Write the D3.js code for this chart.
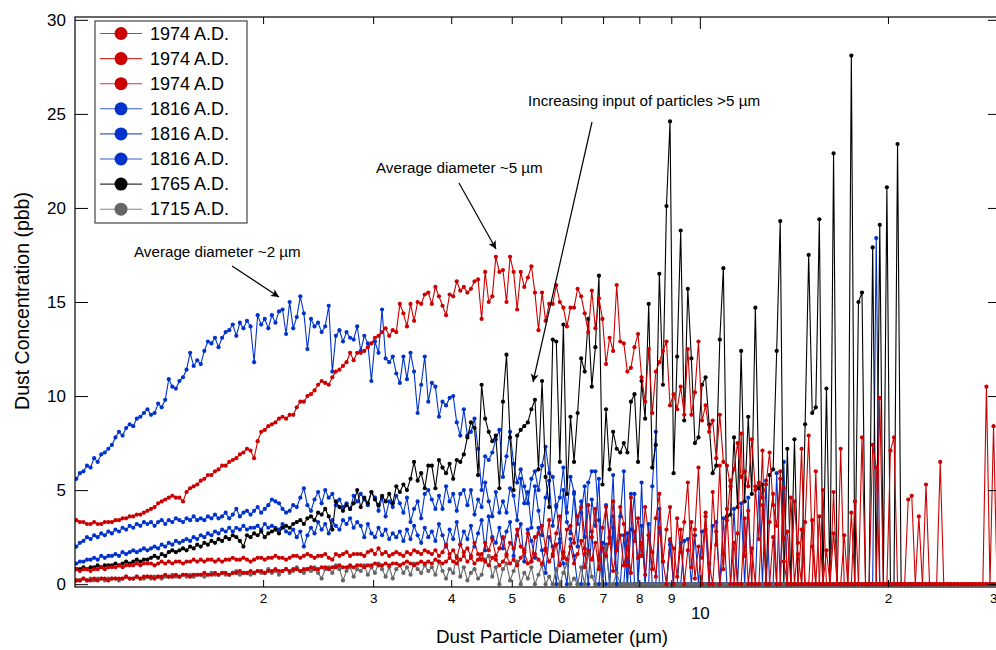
<!DOCTYPE html>
<html>
<head>
<meta charset="utf-8">
<title>Dust particle size distributions</title>
<script src="https://cdn.jsdelivr.net/npm/d3@7/dist/d3.min.js"></script>
<style>
  html, body { margin: 0; padding: 0; background: #ffffff; }
  svg { display: block; font-family: "Liberation Sans", Arial, Helvetica, sans-serif; }
</style>
</head>
<body>
<svg id="chart" width="996" height="650"></svg>
<script>
// Size channels of the particle counter: log-spaced bins (µm)
const channelCount = 260;
const channelMinDiameter = 1.005;
const channelMaxDiameter = 29.9;
const channelDiameters = d3.range(channelCount).map(i =>
  channelMinDiameter * Math.pow(channelMaxDiameter / channelMinDiameter, i / (channelCount - 1)));

const legendLabels = ["1974 A.D.", "1974 A.D.", "1974 A.D", "1816 A.D.", "1816 A.D.", "1816 A.D.", "1765 A.D.", "1715 A.D."];

// Dust concentration (ppb) per size channel, smallest channel first
const conc1974a = [
  3.4, 3.3, 3.3, 3.2, 3.2, 3.3, 3.2, 3.2, 3.3, 3.3,
  3.3, 3.4, 3.4, 3.5, 3.5, 3.6, 3.6, 3.7, 3.7, 3.8,
  3.9, 4.0, 4.1, 4.3, 4.4, 4.5, 4.6, 4.7, 4.6, 4.6,
  4.4, 4.9, 5.1, 5.2, 5.3, 5.5, 5.6, 5.8, 5.8, 6.0,
  6.1, 6.3, 6.3, 6.5, 6.6, 6.7, 6.9, 7.0, 7.2, 7.1,
  6.7, 7.6, 8.1, 8.2, 8.4, 8.5, 8.6, 8.8, 8.9, 8.8,
  9.0, 9.0, 9.4, 9.7, 9.7, 10.0, 10.1, 10.3, 10.6, 10.8,
  10.7, 10.6, 11.0, 11.3, 11.4, 11.6, 11.8, 12.3, 11.9, 12.3,
  12.3, 12.4, 12.6, 12.8, 13.1, 13.2, 13.4, 13.6, 13.2, 13.5,
  13.4, 14.9, 14.4, 13.7, 14.9, 14.0, 15.0, 14.9, 15.4, 15.5,
  14.9, 15.8, 15.3, 14.8, 14.3, 15.4, 15.3, 16.1, 15.6, 15.8,
  15.5, 15.7, 16.1, 16.2, 14.1, 16.6, 15.0, 15.3, 17.4, 16.6,
  16.7, 15.0, 17.4, 16.6, 14.6, 16.6, 15.8, 16.3, 16.9, 15.5,
  13.5, 15.5, 14.0, 14.9, 14.9, 15.9, 15.0, 14.7, 13.7, 14.7,
  14.7, 15.7, 15.3, 14.4, 13.4, 15.6, 13.6, 15.2, 14.1, 11.7,
  13.1, 12.4, 15.9, 12.9, 12.8, 11.3, 11.5, 12.6, 13.3, 11.0,
  9.7, 12.5, 9.1, 11.3, 11.8, 12.4, 12.9, 9.5, 10.1, 9.3,
  10.5, 9.0, 12.5, 9.0, 10.2, 12.9, 8.7, 9.5, 8.1, 8.7,
  6.7, 9.0, 6.5, 6.3, 5.2, 6.1, 7.5, 5.7, 6.0, 5.2,
  7.7, 5.0, 5.4, 4.6, 5.3, 7.0, 4.2, 3.1, 5.6, 2.4,
  2.8, 0, 4.4, 1.6, 0, 3.3, 7.9, 2.0, 0, 3.6,
  0, 1.8, 0, 4.9, 0, 0, 2.6, 0, 0, 0,
  0, 7.8, 0, 0, 0, 0, 9.9, 0, 0, 0,
  0, 0, 0, 0, 0, 0, 0, 0, 0, 0,
  0, 0, 0, 6.5, 0, 0, 0, 0, 0, 0,
  0, 0, 0, 0, 0, 0, 10.5, 0, 8.4, 0
];
const conc1974b = [
  0.8, 0.7, 0.8, 0.8, 0.7, 0.8, 0.8, 0.9, 0.8, 0.9,
  0.9, 0.9, 1.0, 0.9, 1.0, 1.0, 1.0, 1.1, 1.0, 1.1,
  1.1, 1.1, 1.0, 1.1, 1.2, 1.1, 1.2, 1.1, 1.2, 1.2,
  1.1, 1.2, 1.2, 1.3, 1.2, 1.3, 1.2, 1.3, 1.3, 1.2,
  1.3, 1.2, 1.3, 1.3, 1.4, 1.3, 1.3, 1.4, 1.3, 1.2,
  1.3, 1.4, 1.4, 1.3, 1.4, 1.4, 1.5, 1.4, 1.4, 1.3,
  1.4, 1.5, 1.5, 1.4, 1.5, 1.6, 1.5, 1.4, 1.5, 1.5,
  1.6, 1.4, 1.3, 1.6, 1.5, 1.6, 1.7, 1.5, 1.6, 1.6,
  1.6, 1.5, 1.7, 1.8, 1.6, 1.9, 1.6, 1.7, 1.5, 1.6,
  1.7, 1.6, 1.5, 1.7, 1.6, 1.8, 1.7, 1.6, 1.8, 1.7,
  1.6, 1.8, 1.5, 1.7, 2.1, 1.6, 1.8, 1.4, 2.1, 1.7,
  1.9, 1.5, 2.2, 1.6, 1.3, 2.2, 1.8, 2.4, 1.5, 1.9,
  2.5, 1.6, 2.2, 1.9, 2.9, 2.0, 1.8, 2.7, 1.2, 2.5,
  2.7, 3.1, 1.9, 3.4, 1.6, 2.7, 3.6, 1.4, 2.9, 3.1,
  2.2, 3.6, 4.1, 1.6, 4.2, 2.5, 4.0, 1.3, 3.0, 4.1,
  2.2, 4.4, 1.8, 4.1, 3.2, 1.0, 4.6, 2.3, 3.5, 1.5,
  4.1, 2.6, 0.8, 3.5, 4.8, 1.2, 2.9, 4.1, 0, 3.5,
  1.7, 3.3, 5.4, 0.9, 2.9, 6.2, 1.4, 3.8, 0, 4.9,
  2.1, 6.3, 0.8, 3.4, 5.5, 0, 2.7, 8.0, 1.5, 3.9,
  0, 5.2, 2.4, 7.1, 0, 3.3, 4.8, 0, 6.0, 1.2,
  0, 4.6, 0, 2.2, 7.2, 0, 0, 3.4, 0, 0,
  5.0, 0, 0, 2.7, 0, 7.2, 0, 0, 0, 4.4,
  0, 0, 0, 0, 7.4, 6.2, 0, 0, 0, 7.1,
  7.8, 0, 0, 0, 4.5, 4.7, 0, 0, 0, 5.3,
  0, 0, 0, 0, 0, 0, 0, 0, 0, 0,
  0, 0, 0, 0, 0, 0, 0, 0, 0, 0
];
const conc1974c = [
  0.2, 0.2, 0.3, 0.2, 0.2, 0.3, 0.2, 0.3, 0.3, 0.2,
  0.3, 0.3, 0.3, 0.3, 0.4, 0.3, 0.3, 0.4, 0.3, 0.4,
  0.4, 0.4, 0.3, 0.4, 0.4, 0.5, 0.4, 0.4, 0.5, 0.4,
  0.5, 0.5, 0.4, 0.5, 0.5, 0.5, 0.6, 0.5, 0.5, 0.6,
  0.5, 0.6, 0.6, 0.5, 0.6, 0.6, 0.7, 0.6, 0.6, 0.7,
  0.6, 0.7, 0.7, 0.6, 0.7, 0.7, 0.8, 0.7, 0.7, 0.8,
  0.7, 0.8, 0.8, 0.7, 0.8, 0.8, 0.9, 0.8, 0.8, 0.9,
  0.9, 0.8, 0.9, 0.9, 1.0, 0.9, 0.9, 1.0, 0.9, 1.0,
  1.0, 0.9, 1.0, 1.0, 1.1, 1.0, 1.0, 1.1, 1.0, 1.1,
  1.1, 1.0, 1.1, 1.2, 1.1, 1.0, 1.1, 1.2, 1.1, 1.2,
  1.1, 1.3, 1.2, 1.1, 1.2, 1.4, 1.2, 1.1, 1.3, 1.5,
  1.2, 1.4, 1.1, 1.3, 1.6, 1.2, 1.0, 1.4, 1.3, 1.0,
  1.2, 1.5, 1.1, 1.3, 1.0, 1.4, 1.7, 1.1, 1.2, 1.6,
  1.3, 1.1, 1.8, 1.2, 1.5, 2.1, 1.0, 1.7, 1.3, 2.0,
  1.1, 1.6, 2.3, 0.9, 1.8, 1.3, 2.2, 0.8, 1.9, 1.5,
  2.4, 0.7, 1.8, 2.6, 1.0, 2.0, 0.6, 2.8, 1.4, 2.2,
  0.5, 2.6, 1.7, 0.4, 3.0, 1.2, 0, 2.4, 1.9, 0.4,
  2.9, 0, 1.8, 3.3, 0.3, 2.0, 0, 3.6, 1.1, 0,
  2.8, 0, 1.6, 4.0, 0, 2.2, 0, 0, 3.5, 0,
  1.9, 0, 0, 4.2, 0, 0, 2.5, 0, 0, 5.1,
  0, 0, 0, 0, 2.9, 0, 0, 0, 6.0, 0,
  0, 0, 0, 0, 0, 0, 0, 0, 3.8, 0,
  0, 0, 0, 0, 0, 0, 0, 0, 0, 0,
  0, 0, 0, 0, 0, 0, 0, 3.6, 0, 0,
  0, 0, 0, 0, 0, 0, 0, 0, 0, 0,
  0, 0, 0, 0, 0, 0, 0, 0, 0, 0
];
const conc1816a = [
  5.6, 5.9, 6.0, 6.3, 6.2, 6.7, 6.5, 6.9, 7.0, 7.2,
  7.4, 7.8, 8.1, 7.9, 8.3, 8.5, 8.4, 8.8, 8.9, 9.1,
  9.3, 9.0, 9.1, 9.6, 9.4, 9.8, 10.9, 10.5, 10.4, 10.8,
  11.0, 11.4, 12.3, 11.6, 11.9, 11.7, 12.4, 12.9, 12.8, 13.1,
  12.6, 13.1, 13.4, 13.5, 13.8, 13.2, 13.9, 13.6, 14.0, 13.7,
  11.8, 14.3, 13.8, 14.1, 13.6, 14.3, 13.9, 14.5, 14.6, 13.3,
  15.0, 13.6, 14.2, 15.3, 14.4, 12.5, 14.1, 13.7, 13.9, 13.4,
  13.7, 14.8, 11.3, 13.2, 13.5, 12.9, 13.4, 13.1, 13.0, 13.7,
  12.4, 13.2, 12.8, 10.8, 12.9, 12.3, 14.6, 12.0, 11.8, 12.1,
  11.2, 10.7, 12.1, 10.9, 12.3, 11.3, 9.1, 10.6, 12.1, 9.7,
  10.7, 10.5, 8.9, 9.7, 9.5, 9.9, 10.0, 8.6, 7.9, 9.3,
  7.9, 8.1, 8.8, 7.2, 5.0, 6.8, 6.6, 7.0, 7.7, 8.2,
  5.7, 6.8, 8.1, 6.4, 5.4, 6.1, 5.2, 4.3, 5.6, 6.0,
  5.0, 6.3, 7.3, 5.9, 5.7, 4.1, 4.6, 6.2, 3.8, 5.7,
  4.9, 3.2, 4.4, 2.5, 5.4, 6.0, 6.0, 3.4, 0, 2.1,
  0, 3.6, 0, 0, 2.6, 0, 4.8, 0, 0, 3.1,
  0, 0, 5.2, 8.1, 0, 0, 0, 2.3, 0, 0,
  2.2, 0, 0, 0, 0, 0, 0, 0, 0, 0,
  0, 0, 0, 0, 0, 0, 0, 0, 0, 0,
  0, 0, 0, 0, 0, 0, 0, 0, 0, 0
];
const conc1816b = [
  2.0, 2.2, 2.3, 2.5, 2.4, 2.6, 2.5, 2.7, 2.6, 2.8,
  2.7, 2.9, 2.8, 3.0, 2.9, 3.1, 3.0, 3.2, 3.1, 3.3,
  3.2, 3.3, 3.1, 3.3, 3.4, 3.2, 3.4, 3.3, 3.5, 3.4,
  3.3, 3.5, 3.4, 3.6, 3.4, 3.5, 3.4, 3.6, 3.5, 3.7,
  3.5, 3.6, 3.8, 3.5, 3.7, 4.0, 3.6, 3.8, 3.9, 3.7,
  3.9, 4.1, 3.8, 4.0, 4.2, 4.5, 4.4, 4.3, 4.0, 3.8,
  3.9, 4.2, 4.1, 4.6, 5.1, 4.2, 3.9, 4.5, 4.9, 4.3,
  5.0, 4.6, 4.8, 4.2, 4.5, 4.1, 4.3, 4.0, 4.7, 4.4,
  4.8, 4.5, 4.2, 4.9, 4.6, 3.9, 4.6, 3.6, 4.4, 4.1,
  4.7, 4.3, 3.8, 4.6, 3.3, 4.0, 4.4, 3.5, 4.8, 5.0,
  4.5, 4.0, 4.7, 4.0, 5.2, 4.4, 4.8, 3.9, 4.8, 5.0,
  4.2, 5.0, 3.7, 4.5, 4.1, 5.4, 4.4, 3.6, 4.9, 3.8,
  4.4, 3.8, 5.1, 4.7, 3.4, 5.6, 4.3, 4.9, 3.0, 5.2,
  3.9, 2.6, 4.6, 5.5, 3.1, 4.2, 2.4, 5.0, 3.3, 2.7,
  4.8, 2.0, 3.8, 5.2, 1.6, 4.5, 3.1, 5.6, 0, 4.2,
  2.5, 5.8, 0, 3.6, 6.0, 0, 2.9, 4.8, 0, 5.4,
  0, 3.2, 0, 0, 4.0, 0, 0, 2.1, 0, 0,
  0, 2.3, 2.4, 0, 2.6, 0, 2.8, 2.9, 0, 3.1,
  3.3, 0, 3.5, 0, 0, 4.0, 0, 4.3, 0, 4.6,
  0, 0, 5.1, 0, 5.5, 0, 0, 5.9, 0, 6.5,
  0, 0, 0, 0, 0, 0, 0, 0, 0, 0,
  0, 0, 0, 0, 0, 0, 0, 0, 0, 0,
  0, 0, 0, 0, 0, 18.4, 0, 0, 0, 0,
  0, 0, 0, 0, 0, 0
];
const conc1816c = [
  1.1, 1.2, 1.2, 1.3, 1.3, 1.4, 1.3, 1.5, 1.4, 1.5,
  1.5, 1.6, 1.5, 1.7, 1.6, 1.7, 1.8, 1.7, 1.8, 1.9,
  1.8, 1.9, 2.0, 1.9, 2.1, 2.0, 2.2, 2.1, 2.3, 2.2,
  2.3, 2.4, 2.3, 2.5, 2.4, 2.6, 2.5, 2.7, 2.6, 2.8,
  2.7, 2.9, 2.8, 3.0, 2.8, 3.0, 2.9, 3.1, 2.9, 3.0,
  3.0, 3.1, 2.9, 3.2, 3.0, 3.1, 3.0, 2.9, 3.2, 2.8,
  2.7, 2.9, 2.5, 2.8, 2.0, 2.6, 3.0, 2.7, 3.3, 2.9,
  3.2, 2.7, 3.4, 3.1, 2.9, 3.4, 3.2, 3.5, 3.0, 3.3,
  3.1, 2.5, 3.2, 2.7, 2.5, 3.0, 2.6, 2.9, 2.4, 2.7,
  2.5, 2.8, 2.3, 2.9, 2.4, 3.1, 2.6, 2.2, 3.0, 2.5,
  2.8, 2.3, 3.2, 2.6, 2.0, 2.9, 2.4, 3.3, 2.1, 2.8,
  2.4, 3.1, 2.0, 2.7, 3.4, 1.8, 3.6, 2.5, 2.2, 3.0,
  1.9, 2.8, 3.3, 1.5, 2.6, 3.2, 1.2, 2.9, 2.3, 1.4,
  3.0, 1.8, 0.6, 2.5, 2.0, 0, 2.2, 1.1, 0, 2.4,
  1.5, 0, 0, 1.9, 0, 2.8, 0, 0, 2.2, 0,
  0, 3.0, 0, 0, 0, 2.7, 0, 0, 0, 0,
  0, 0, 0, 0, 0, 0, 0, 0, 0, 0,
  0, 0, 0, 0, 0, 0, 0, 0, 0, 0,
  0, 0, 0, 0, 0, 0, 0, 0, 0, 0,
  0, 0, 0, 0, 0, 0, 0, 0, 0, 0
];
const conc1765 = [
  0.8, 0.8, 0.9, 0.8, 0.9, 0.9, 1.0, 0.9, 1.0, 1.0,
  1.0, 1.1, 1.0, 1.1, 1.2, 1.1, 1.2, 1.3, 1.2, 1.3,
  1.3, 1.4, 1.5, 1.4, 1.6, 1.5, 1.7, 1.8, 1.7, 1.8,
  1.9, 1.8, 2.0, 1.9, 2.1, 2.0, 2.2, 2.1, 2.3, 2.2,
  2.4, 2.3, 2.5, 2.4, 2.6, 2.5, 2.3, 2.0, 2.6, 2.5,
  2.7, 2.6, 2.8, 2.5, 2.7, 2.8, 2.9, 2.7, 3.0, 3.1,
  3.0, 3.2, 3.3, 3.4, 3.2, 3.5, 3.6, 3.4, 3.8, 3.7,
  4.0, 3.6, 2.9, 4.4, 4.1, 3.9, 4.2, 4.0, 4.3, 5.0,
  4.1, 4.6, 4.3, 4.9, 4.5, 4.2, 4.7, 4.4, 4.8, 4.3,
  5.2, 4.9, 5.3, 5.0, 5.6, 6.5, 5.5, 5.9, 5.1, 6.3,
  6.3, 5.1, 6.6, 6.2, 5.9, 6.4, 5.6, 6.6, 6.5, 6.9,
  7.8, 8.6, 8.3, 5.8, 10.6, 8.8, 8.1, 7.6, 7.9, 5.1,
  9.7, 12.2, 7.8, 5.0, 7.9, 8.2, 8.4, 8.6, 9.3, 9.8,
  6.1, 10.8, 5.7, 4.1, 13.0, 12.9, 6.5, 13.8, 4.8, 8.9,
  6.5, 9.1, 12.0, 11.3, 14.1, 10.5, 12.6, 16.4, 5.3, 9.3,
  6.1, 8.1, 7.2, 7.0, 7.5, 7.0, 9.7, 10.1, 6.5, 10.8,
  8.8, 14.9, 6.2, 7.4, 16.5, 10.6, 20.1, 24.6, 5.9, 12.1,
  18.8, 8.7, 15.7, 12.0, 7.5, 7.8, 10.6, 11.0, 8.5, 5.9,
  6.3, 13.0, 16.8, 3.6, 3.7, 7.8, 4.1, 12.4, 4.4, 8.9,
  4.8, 14.7, 5.1, 5.3, 0, 5.8, 6.1, 12.4, 19.3, 0,
  7.2, 0, 7.7, 0, 0, 8.5, 17.5, 9.1, 9.4, 19.4,
  0, 10.4, 0, 22.9, 0, 0, 0, 0, 28.1, 0,
  15.0, 15.5, 0, 0, 17.9, 0, 19.1, 0, 21.1, 0,
  0, 23.4, 0, 0, 0, 0, 0, 0, 0, 0
];
const conc1715 = [
  0.2, 0.2, 0.3, 0.2, 0.3, 0.2, 0.3, 0.3, 0.2, 0.3,
  0.3, 0.3, 0.2, 0.3, 0.4, 0.3, 0.3, 0.4, 0.3, 0.3,
  0.4, 0.3, 0.4, 0.4, 0.3, 0.4, 0.4, 0.5, 0.4, 0.4,
  0.5, 0.4, 0.5, 0.4, 0.5, 0.5, 0.4, 0.5, 0.6, 0.5,
  0.5, 0.6, 0.5, 0.5, 0.6, 0.7, 0.5, 0.6, 0.6, 0.5,
  0.6, 0.7, 0.6, 0.6, 0.8, 0.6, 0.7, 0.5, 0.7, 0.8,
  0.6, 0.7, 0.9, 0.7, 0.6, 0.8, 0.7, 0.9, 0.6, 0.3,
  0.8, 0.9, 0.6, 1.0, 0.8, 0.2, 0.7, 0.9, 0.4, 0.8,
  0.7, 1.0, 0.5, 0.9, 0.6, 1.1, 0.8, 0.4, 0.9, 0.3,
  0.8, 1.0, 0.6, 0.9, 0.5, 1.1, 0.8, 0.6, 1.0, 0.7,
  0.9, 0.5, 1.2, 0.7, 0.3, 0.8, 0.6, 1.5, 0.4, 0.9,
  0.2, 0.6, 0.8, 0.3, 0.5, 1.3, 1.5, 0.4, 0.9, 0,
  0.8, 1.1, 0.2, 0.7, 1.2, 0, 0.6, 0.3, 0.9, 0,
  0.5, 1.0, 0, 0.4, 0, 0.8, 0, 0.6, 1.1, 0,
  0.3, 0, 0.9, 0, 1.7, 0.4, 0, 1.5, 0, 2.0,
  0, 0, 0.6, 0, 0, 0, 0, 0, 0, 0,
  0, 0, 0, 0, 0, 0, 0, 0, 0, 0,
  0, 0, 0, 0, 0, 0, 0, 0, 0, 0,
  0, 0, 0, 0, 0, 0, 0, 0, 0, 0,
  0, 0, 0, 0, 0, 0, 0, 0, 0, 0,
  0, 0, 0, 0, 0
];

const seriesValues = [conc1974a, conc1974b, conc1974c, conc1816a, conc1816b, conc1816c, conc1765, conc1715];
const seriesColors = ["#cc0000", "#cc0000", "#cc0000", "#0033cc", "#0033cc", "#0033cc", "#000000", "#666666"];
// painting order: blue first, then black, grey, and the red samples on top
const paintOrder = [3, 4, 5, 6, 7, 2, 1, 0];

const yTickValues = [0, 5, 10, 15, 20, 25, 30];
const xTickValues = [2, 3, 4, 5, 6, 7, 8, 9, 10, 20, 30];
const xTickLabels = ["2", "3", "4", "5", "6", "7", "8", "9", "10", "2", "3"];

const annotationTexts = ["Average diameter ~2 µm", "Average diameter ~5 µm", "Increasing input of particles >5 µm"];

// ---------------------------------------------------------------------------
const svg = d3.select("#chart");
const plot = { left: 75, right: 998, top: 17, bottom: 587 };

const x = d3.scaleLog().domain([1, 30]).range([plot.left, plot.right]);
const y = d3.scaleLinear().domain([-0.15, 30.15]).range([plot.bottom, plot.top]);

svg.append("defs").append("clipPath").attr("id", "plotClip")
  .append("rect")
  .attr("x", plot.left).attr("y", plot.top)
  .attr("width", plot.right - plot.left).attr("height", plot.bottom - plot.top);

svg.select("defs").append("marker")
  .attr("id", "arrowHead")
  .attr("viewBox", "0 0 10 10")
  .attr("refX", 10).attr("refY", 5)
  .attr("markerWidth", 11).attr("markerHeight", 8)
  .attr("markerUnits", "userSpaceOnUse")
  .attr("orient", "auto")
  .append("path").attr("d", "M0,0 L10,5 L0,10 L2.5,5 Z").attr("fill", "#000");

// data layers
const dataLayer = svg.append("g").attr("clip-path", "url(#plotClip)");
const line = d3.line().x(d => x(d[0])).y(d => y(d[1]));

paintOrder.forEach(k => {
  const pts = seriesValues[k].map((v, i) => [channelDiameters[i], v]);
  const g = dataLayer.append("g").attr("class", "series s" + k);
  g.append("path")
    .datum(pts)
    .attr("d", line)
    .attr("fill", "none")
    .attr("stroke", seriesColors[k])
    .attr("stroke-width", 1.1)
    .attr("stroke-linejoin", "round");
  g.selectAll("circle").data(pts).join("circle")
    .attr("cx", d => x(d[0]))
    .attr("cy", d => y(d[1]))
    .attr("r", 2.1)
    .attr("fill", seriesColors[k]);
});

// frame
svg.append("rect")
  .attr("x", plot.left).attr("y", plot.top)
  .attr("width", plot.right - plot.left).attr("height", plot.bottom - plot.top)
  .attr("fill", "none").attr("stroke", "#000").attr("stroke-width", 1.2);

// left axis, inward ticks
const yAxis = svg.append("g")
  .attr("transform", `translate(${plot.left},0)`)
  .call(d3.axisLeft(y).tickValues(yTickValues).tickSize(-13).tickSizeOuter(0).tickPadding(9));
yAxis.select(".domain").remove();
yAxis.selectAll("text").attr("font-size", 17).attr("fill", "#000").style("font-family", "inherit");
yAxis.selectAll("line").attr("stroke", "#000");

// right mirror ticks
const yAxisR = svg.append("g")
  .attr("transform", `translate(${plot.right},0)`)
  .call(d3.axisRight(y).tickValues(yTickValues).tickSize(-10).tickSizeOuter(0).tickFormat(""));
yAxisR.select(".domain").remove();

// bottom axis
const xAxis = svg.append("g")
  .attr("transform", `translate(0,${plot.bottom})`)
  .call(d3.axisBottom(x).tickValues(xTickValues)
    .tickSize(-7).tickSizeOuter(0).tickPadding(6)
    .tickFormat((d, i) => xTickLabels[i]));
xAxis.select(".domain").remove();
xAxis.selectAll("text").attr("font-size", 13.5).attr("fill", "#000").style("font-family", "inherit");
xAxis.selectAll(".tick").filter(d => d === 10).each(function () {
  d3.select(this).select("line").attr("y2", -12);
  d3.select(this).select("text").attr("font-size", 17).attr("y", 20);
});
// the last label sits on the right border; keep it inside the page
xAxis.selectAll(".tick").filter(d => d === 30).select("text")
  .attr("text-anchor", "end").attr("dx", -1);

// top mirror ticks
const xAxisT = svg.append("g")
  .attr("transform", `translate(0,${plot.top})`)
  .call(d3.axisTop(x).tickValues(xTickValues).tickSize(-7).tickSizeOuter(0).tickFormat(""));
xAxisT.select(".domain").remove();
xAxisT.selectAll(".tick").filter(d => d === 10).select("line").attr("y2", 12);

// axis titles
svg.append("text")
  .attr("transform", "translate(22,301) rotate(-90)")
  .attr("text-anchor", "middle").attr("dominant-baseline", "central")
  .attr("font-size", 19.5).text("Dust Concentration (pbb)");
svg.append("text")
  .attr("x", 552).attr("y", 636)
  .attr("text-anchor", "middle").attr("dominant-baseline", "central")
  .attr("font-size", 18.8).text("Dust Particle Diameter (µm)");

// annotations
const notes = [
  { text: annotationTexts[0], tx: 134, ty: 257, from: [232, 266], to: [279, 297] },
  { text: annotationTexts[1], tx: 376, ty: 173, from: [459, 183], to: [496, 249] },
  { text: annotationTexts[2], tx: 528, ty: 106, from: [592, 122], to: [533, 382] }
];
const noteLayer = svg.append("g");
notes.forEach(n => {
  noteLayer.append("text").attr("x", n.tx).attr("y", n.ty).attr("font-size", 15.2).text(n.text);
  noteLayer.append("line")
    .attr("x1", n.from[0]).attr("y1", n.from[1])
    .attr("x2", n.to[0]).attr("y2", n.to[1])
    .attr("stroke", "#000").attr("stroke-width", 1.2)
    .attr("marker-end", "url(#arrowHead)");
});

// legend
const legend = svg.append("g");
legend.append("rect")
  .attr("x", 95).attr("y", 21).attr("width", 152).attr("height", 202)
  .attr("fill", "#fff").attr("stroke", "#444").attr("stroke-width", 1.2);
legendLabels.forEach((lab, k) => {
  const cy = 33.5 + k * 25.1;
  legend.append("line")
    .attr("x1", 100).attr("x2", 142).attr("y1", cy).attr("y2", cy)
    .attr("stroke", seriesColors[k]).attr("stroke-width", 1.1).attr("stroke-opacity", 0.8);
  legend.append("circle").attr("cx", 121).attr("cy", cy).attr("r", 6.5).attr("fill", seriesColors[k]);
  legend.append("text")
    .attr("x", 150).attr("y", cy).attr("dominant-baseline", "central")
    .attr("font-size", 18).text(lab);
});
</script>
</body>
</html>
